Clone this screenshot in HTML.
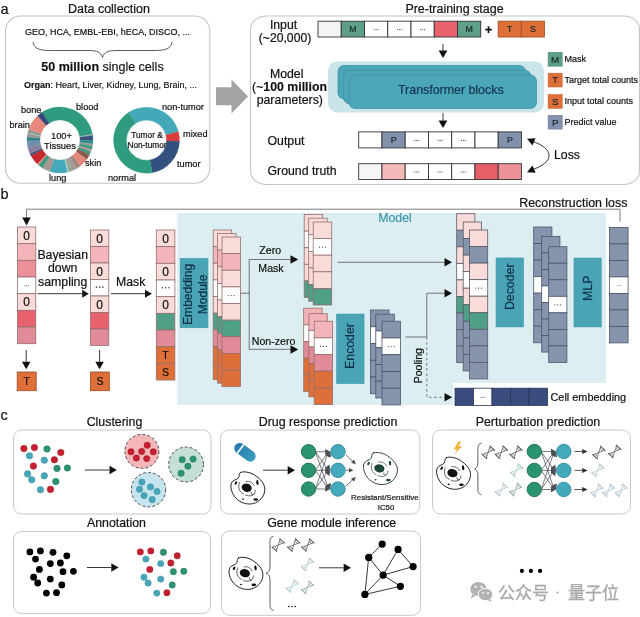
<!DOCTYPE html>
<html><head><meta charset="utf-8"><title>figure</title>
<style>html,body{margin:0;padding:0;background:#fff}svg{display:block;will-change:transform}text{font-family:"Liberation Sans",sans-serif}</style>
</head><body>
<svg width="640" height="617" viewBox="0 0 640 617">
<defs><linearGradient id="pillg" x1="0" y1="0" x2="1" y2="0"><stop offset="0" stop-color="#2679ad"/><stop offset="1" stop-color="#3b9cc0"/></linearGradient></defs>
<rect x="0" y="0" width="640" height="617" fill="#ffffff"/>
<text x="0.5" y="13.5" font-size="14.5" text-anchor="start" fill="#111" stroke="#111" stroke-width="0.2" >a</text>
<text x="109" y="12.5" font-size="12.5" text-anchor="middle" fill="#111" stroke="#111" stroke-width="0.2" >Data collection</text>
<rect x="5.5" y="16" width="204.3" height="167.3" rx="15" ry="15" fill="#fff" stroke="#c4c4c4" stroke-width="1.1"/>
<text x="107.5" y="34.5" font-size="8.97" text-anchor="middle" fill="#111" stroke="#111" stroke-width="0.2" >GEO, HCA, EMBL-EBI, hECA, DISCO, ...</text>
<path d="M33,42 C34,50 42,50.5 52,50.5 L88,50.5 C97,50.5 101,52 102.5,57.5 C104,52 108,50.5 117,50.5 L153,50.5 C163,50.5 171,50 172,42" fill="none" stroke="#333" stroke-width="0.8"/>
<text x="102.5" y="70.5" font-size="12.5" text-anchor="middle" fill="#111" stroke="#111" stroke-width="0.15"><tspan font-weight="bold">50 million</tspan> single cells</text>
<text x="110.5" y="87.5" font-size="9" text-anchor="middle" fill="#111" stroke="#111" stroke-width="0.15"><tspan font-weight="bold">Organ</tspan>: Heart, Liver, Kidney, Lung, Brain, ...</text>
<path d="M42.03,112.32 A33,33 0 0 1 92.50,134.27 L79.70,136.53 A20,20 0 0 0 49.11,123.23 Z" fill="#2f9c7f" stroke="#2f9c7f" stroke-width="0.3"/>
<path d="M92.50,134.27 A33,33 0 0 1 92.68,135.41 L79.81,137.22 A20,20 0 0 0 79.70,136.53 Z" fill="#9ab8b0" stroke="#9ab8b0" stroke-width="0.3"/>
<path d="M92.68,135.41 A33,33 0 0 1 92.99,140.58 L80.00,140.35 A20,20 0 0 0 79.81,137.22 Z" fill="#35527d" stroke="#35527d" stroke-width="0.3"/>
<path d="M92.99,140.58 A33,33 0 0 1 92.75,144.02 L79.85,142.44 A20,20 0 0 0 80.00,140.35 Z" fill="#2f8f88" stroke="#2f8f88" stroke-width="0.3"/>
<path d="M92.75,144.02 A33,33 0 0 1 92.39,146.30 L79.63,143.82 A20,20 0 0 0 79.85,142.44 Z" fill="#9a9a9a" stroke="#9a9a9a" stroke-width="0.3"/>
<path d="M92.39,146.30 A33,33 0 0 1 91.56,149.65 L79.13,145.85 A20,20 0 0 0 79.63,143.82 Z" fill="#3f9a80" stroke="#3f9a80" stroke-width="0.3"/>
<path d="M91.56,149.65 A33,33 0 0 1 90.81,151.83 L78.67,147.17 A20,20 0 0 0 79.13,145.85 Z" fill="#b59a98" stroke="#b59a98" stroke-width="0.3"/>
<path d="M90.81,151.83 A33,33 0 0 1 89.40,154.98 L77.82,149.08 A20,20 0 0 0 78.67,147.17 Z" fill="#3f9a80" stroke="#3f9a80" stroke-width="0.3"/>
<path d="M89.40,154.98 A33,33 0 0 1 86.70,159.40 L76.18,151.76 A20,20 0 0 0 77.82,149.08 Z" fill="#8a5a4c" stroke="#8a5a4c" stroke-width="0.3"/>
<path d="M86.70,159.40 A33,33 0 0 1 80.32,166.00 L72.31,155.76 A20,20 0 0 0 76.18,151.76 Z" fill="#e5887c" stroke="#e5887c" stroke-width="0.3"/>
<path d="M80.32,166.00 A33,33 0 0 1 76.50,168.58 L70.00,157.32 A20,20 0 0 0 72.31,155.76 Z" fill="#a08880" stroke="#a08880" stroke-width="0.3"/>
<path d="M76.50,168.58 A33,33 0 0 1 71.83,170.81 L67.17,158.67 A20,20 0 0 0 70.00,157.32 Z" fill="#a59a95" stroke="#a59a95" stroke-width="0.3"/>
<path d="M71.83,170.81 A33,33 0 0 1 68.54,171.88 L65.18,159.32 A20,20 0 0 0 67.17,158.67 Z" fill="#8fa596" stroke="#8fa596" stroke-width="0.3"/>
<path d="M68.54,171.88 A33,33 0 0 1 67.42,172.15 L64.50,159.49 A20,20 0 0 0 65.18,159.32 Z" fill="#c8d8d0" stroke="#c8d8d0" stroke-width="0.3"/>
<path d="M67.42,172.15 A33,33 0 0 1 49.80,171.38 L53.82,159.02 A20,20 0 0 0 64.50,159.49 Z" fill="#46a9b9" stroke="#46a9b9" stroke-width="0.3"/>
<path d="M49.80,171.38 A33,33 0 0 1 42.51,167.99 L49.40,156.96 A20,20 0 0 0 53.82,159.02 Z" fill="#a89890" stroke="#a89890" stroke-width="0.3"/>
<path d="M42.51,167.99 A33,33 0 0 1 38.35,164.91 L46.88,155.09 A20,20 0 0 0 49.40,156.96 Z" fill="#3f9a80" stroke="#3f9a80" stroke-width="0.3"/>
<path d="M38.35,164.91 A33,33 0 0 1 37.08,163.74 L46.11,154.39 A20,20 0 0 0 46.88,155.09 Z" fill="#e5887c" stroke="#e5887c" stroke-width="0.3"/>
<path d="M37.08,163.74 A33,33 0 0 1 30.86,155.49 L42.34,149.39 A20,20 0 0 0 46.11,154.39 Z" fill="#c5282f" stroke="#c5282f" stroke-width="0.3"/>
<path d="M30.86,155.49 A33,33 0 0 1 29.85,153.42 L41.73,148.13 A20,20 0 0 0 42.34,149.39 Z" fill="#35527d" stroke="#35527d" stroke-width="0.3"/>
<path d="M29.85,153.42 A33,33 0 0 1 27.85,147.42 L40.51,144.50 A20,20 0 0 0 41.73,148.13 Z" fill="#8a7f9c" stroke="#8a7f9c" stroke-width="0.3"/>
<path d="M27.85,147.42 A33,33 0 0 1 27.01,140.58 L40.00,140.35 A20,20 0 0 0 40.51,144.50 Z" fill="#6f8fae" stroke="#6f8fae" stroke-width="0.3"/>
<path d="M27.01,140.58 A33,33 0 0 1 27.13,137.12 L40.08,138.26 A20,20 0 0 0 40.00,140.35 Z" fill="#2f7f88" stroke="#2f7f88" stroke-width="0.3"/>
<path d="M27.13,137.12 A33,33 0 0 1 27.61,133.70 L40.37,136.18 A20,20 0 0 0 40.08,138.26 Z" fill="#8f9a98" stroke="#8f9a98" stroke-width="0.3"/>
<path d="M27.61,133.70 A33,33 0 0 1 27.85,132.58 L40.51,135.50 A20,20 0 0 0 40.37,136.18 Z" fill="#b5b0a0" stroke="#b5b0a0" stroke-width="0.3"/>
<path d="M27.85,132.58 A33,33 0 0 1 28.80,129.26 L41.09,133.49 A20,20 0 0 0 40.51,135.50 Z" fill="#8f9a98" stroke="#8f9a98" stroke-width="0.3"/>
<path d="M28.80,129.26 A33,33 0 0 1 37.49,115.87 L46.36,125.37 A20,20 0 0 0 41.09,133.49 Z" fill="#e8887c" stroke="#e8887c" stroke-width="0.3"/>
<path d="M37.49,115.87 A33,33 0 0 1 42.03,112.32 L49.11,123.23 A20,20 0 0 0 46.36,125.37 Z" fill="#34487e" stroke="#34487e" stroke-width="0.3"/>
<text x="61.5" y="138.5" font-size="9.4" text-anchor="middle" fill="#111" stroke="#111" stroke-width="0.2" >100+</text>
<text x="60" y="149" font-size="9.4" text-anchor="middle" fill="#111" stroke="#111" stroke-width="0.2" >Tissues</text>
<text x="21" y="113" font-size="9.2" text-anchor="start" fill="#111" stroke="#111" stroke-width="0.2" >bone</text>
<text x="76" y="110" font-size="9.2" text-anchor="start" fill="#111" stroke="#111" stroke-width="0.2" >blood</text>
<text x="9.5" y="127.5" font-size="9.2" text-anchor="start" fill="#111" stroke="#111" stroke-width="0.2" >brain</text>
<text x="85" y="166" font-size="9.2" text-anchor="start" fill="#111" stroke="#111" stroke-width="0.2" >skin</text>
<text x="49" y="180.5" font-size="9.2" text-anchor="start" fill="#111" stroke="#111" stroke-width="0.2" >lung</text>
<path d="M128.53,112.52 A33,33 0 0 1 178.38,131.66 L165.82,135.02 A20,20 0 0 0 135.61,123.43 Z" fill="#43a9b9" stroke="#43a9b9" stroke-width="0.3"/>
<path d="M178.38,131.66 A33,33 0 0 1 179.48,141.35 L166.49,140.90 A20,20 0 0 0 165.82,135.02 Z" fill="#dc3b3b" stroke="#dc3b3b" stroke-width="0.3"/>
<path d="M179.48,141.35 A33,33 0 0 1 152.23,172.70 L149.97,159.90 A20,20 0 0 0 166.49,140.90 Z" fill="#34507f" stroke="#34507f" stroke-width="0.3"/>
<path d="M152.23,172.70 A33,33 0 0 1 128.53,112.52 L135.61,123.43 A20,20 0 0 0 149.97,159.90 Z" fill="#2f9c7f" stroke="#2f9c7f" stroke-width="0.3"/>
<text x="147" y="138" font-size="8.3" text-anchor="middle" fill="#111" stroke="#111" stroke-width="0.2" >Tumor &amp;</text>
<text x="147" y="148" font-size="8.3" text-anchor="middle" fill="#111" stroke="#111" stroke-width="0.2" >Non-tumor</text>
<text x="162" y="110" font-size="9.2" text-anchor="start" fill="#111" stroke="#111" stroke-width="0.2" >non-tumor</text>
<text x="183" y="137" font-size="9.2" text-anchor="start" fill="#111" stroke="#111" stroke-width="0.2" >mixed</text>
<text x="177" y="166.5" font-size="9.2" text-anchor="start" fill="#111" stroke="#111" stroke-width="0.2" >tumor</text>
<text x="108" y="180.5" font-size="9.2" text-anchor="start" fill="#111" stroke="#111" stroke-width="0.2" >normal</text>
<polygon points="216,87.2 231.5,87.2 231.5,79.5 248,96.5 231.5,113.5 231.5,105.2 216,105.2" fill="#a3a3a5"/>
<text x="454.5" y="13.2" font-size="12.44" text-anchor="middle" fill="#111" stroke="#111" stroke-width="0.2" >Pre-training stage</text>
<rect x="250.5" y="16" width="389" height="168.5" rx="16" ry="13" fill="#fff" stroke="#c4c4c4" stroke-width="1.1"/>
<text x="283.5" y="28.5" font-size="12.2" text-anchor="middle" fill="#111" stroke="#111" stroke-width="0.2" >Input</text>
<text x="285" y="42" font-size="12.2" text-anchor="middle" fill="#111" stroke="#111" stroke-width="0.2" >(~20,000)</text>
<text x="286.7" y="77.5" font-size="12.3" text-anchor="middle" fill="#111" stroke="#111" stroke-width="0.2" >Model</text>
<text x="289.5" y="90.8" font-size="12.3" text-anchor="middle" fill="#111" stroke="#111" stroke-width="0.15">(~<tspan font-weight="bold">100 million</tspan></text>
<text x="289.8" y="104.3" font-size="12.3" text-anchor="middle" fill="#111" stroke="#111" stroke-width="0.2" >parameters)</text>
<text x="267.5" y="145" font-size="12.3" text-anchor="start" fill="#111" stroke="#111" stroke-width="0.2" >Output</text>
<text x="267.5" y="175" font-size="12.3" text-anchor="start" fill="#111" stroke="#111" stroke-width="0.2" >Ground truth</text>
<rect x="318.00" y="21.2" width="23.25" height="15.8" fill="#f4f4f4" stroke="#333" stroke-width="0.9"/>
<rect x="341.25" y="21.2" width="23.25" height="15.8" fill="#5ea087" stroke="#333" stroke-width="0.9"/>
<text x="352.88" y="32.27" font-size="8.8" text-anchor="middle" fill="#1a2a2a" stroke="#1a2a2a" stroke-width="0.2" >M</text>
<rect x="364.50" y="21.2" width="23.25" height="15.8" fill="#ffffff" stroke="#333" stroke-width="0.9"/>
<circle cx="374.23" cy="29.60" r="0.55" fill="#444"/>
<circle cx="376.12" cy="29.60" r="0.55" fill="#444"/>
<circle cx="378.02" cy="29.60" r="0.55" fill="#444"/>
<rect x="387.75" y="21.2" width="23.25" height="15.8" fill="#ffffff" stroke="#333" stroke-width="0.9"/>
<circle cx="397.48" cy="29.60" r="0.55" fill="#444"/>
<circle cx="399.38" cy="29.60" r="0.55" fill="#444"/>
<circle cx="401.27" cy="29.60" r="0.55" fill="#444"/>
<rect x="411.00" y="21.2" width="23.25" height="15.8" fill="#ffffff" stroke="#333" stroke-width="0.9"/>
<circle cx="420.73" cy="29.60" r="0.55" fill="#444"/>
<circle cx="422.62" cy="29.60" r="0.55" fill="#444"/>
<circle cx="424.52" cy="29.60" r="0.55" fill="#444"/>
<rect x="434.25" y="21.2" width="23.25" height="15.8" fill="#e9626d" stroke="#333" stroke-width="0.9"/>
<rect x="457.50" y="21.2" width="23.25" height="15.8" fill="#5ea087" stroke="#333" stroke-width="0.9"/>
<text x="469.12" y="32.27" font-size="8.8" text-anchor="middle" fill="#1a2a2a" stroke="#1a2a2a" stroke-width="0.2" >M</text>
<text x="488.5" y="33.5" font-size="13" text-anchor="middle" fill="#111" stroke="#111" stroke-width="0.2" font-weight="bold">+</text>
<rect x="498.20" y="21.2" width="23.1" height="15.8" fill="#df6f39" stroke="#a54e25" stroke-width="0.9"/>
<text x="509.75" y="32.27" font-size="8.8" text-anchor="middle" fill="#1a2a2a" stroke="#1a2a2a" stroke-width="0.2" >T</text>
<rect x="521.30" y="21.2" width="23.1" height="15.8" fill="#df6f39" stroke="#a54e25" stroke-width="0.9"/>
<text x="532.85" y="32.27" font-size="8.8" text-anchor="middle" fill="#1a2a2a" stroke="#1a2a2a" stroke-width="0.2" >S</text>
<line x1="443" y1="44" x2="443.00" y2="50.50" stroke="#222" stroke-width="0.9"/>
<polygon points="443.00,58.00 438.60,50.50 447.40,50.50" fill="#111"/>
<rect x="328" y="61.5" width="216" height="51" rx="9" fill="#c9e5ea"/>
<rect x="338" y="65.5" width="187.5" height="33.5" rx="6" fill="#4ba6b7" stroke="#3d94a6" stroke-width="0.8"/>
<rect x="343.5" y="70.2" width="187.5" height="33.5" rx="6" fill="#4ba6b7" stroke="#3d94a6" stroke-width="0.8"/>
<rect x="349" y="75.0" width="187.5" height="33.5" rx="6" fill="#4ba6b7" stroke="#3d94a6" stroke-width="0.8"/>
<text x="450.8" y="94" font-size="12.4" text-anchor="middle" fill="#15344f" stroke="#15344f" stroke-width="0.2" >Transformer blocks</text>
<line x1="443" y1="113" x2="443.00" y2="120.50" stroke="#222" stroke-width="0.9"/>
<polygon points="443.00,128.00 438.60,120.50 447.40,120.50" fill="#111"/>
<rect x="358.70" y="131.9" width="23.25" height="16" fill="#ffffff" stroke="#333" stroke-width="0.9"/>
<rect x="381.95" y="131.9" width="23.25" height="16" fill="#8391ad" stroke="#333" stroke-width="0.9"/>
<text x="393.57" y="143.07" font-size="8.8" text-anchor="middle" fill="#1a2a2a" stroke="#1a2a2a" stroke-width="0.2" >P</text>
<rect x="405.20" y="131.9" width="23.25" height="16" fill="#ffffff" stroke="#333" stroke-width="0.9"/>
<circle cx="414.93" cy="140.40" r="0.55" fill="#444"/>
<circle cx="416.82" cy="140.40" r="0.55" fill="#444"/>
<circle cx="418.72" cy="140.40" r="0.55" fill="#444"/>
<rect x="428.45" y="131.9" width="23.25" height="16" fill="#ffffff" stroke="#333" stroke-width="0.9"/>
<circle cx="438.18" cy="140.40" r="0.55" fill="#444"/>
<circle cx="440.07" cy="140.40" r="0.55" fill="#444"/>
<circle cx="441.97" cy="140.40" r="0.55" fill="#444"/>
<rect x="451.70" y="131.9" width="23.25" height="16" fill="#ffffff" stroke="#333" stroke-width="0.9"/>
<circle cx="461.43" cy="140.40" r="0.55" fill="#444"/>
<circle cx="463.32" cy="140.40" r="0.55" fill="#444"/>
<circle cx="465.22" cy="140.40" r="0.55" fill="#444"/>
<rect x="474.95" y="131.9" width="23.25" height="16" fill="#ffffff" stroke="#333" stroke-width="0.9"/>
<rect x="498.20" y="131.9" width="23.25" height="16" fill="#8391ad" stroke="#333" stroke-width="0.9"/>
<text x="509.82" y="143.07" font-size="8.8" text-anchor="middle" fill="#1a2a2a" stroke="#1a2a2a" stroke-width="0.2" >P</text>
<rect x="358.70" y="163.7" width="23.25" height="15.8" fill="#f8f5f5" stroke="#333" stroke-width="0.9"/>
<rect x="381.95" y="163.7" width="23.25" height="15.8" fill="#f4b9b9" stroke="#333" stroke-width="0.9"/>
<rect x="405.20" y="163.7" width="23.25" height="15.8" fill="#ffffff" stroke="#333" stroke-width="0.9"/>
<circle cx="414.93" cy="172.10" r="0.55" fill="#444"/>
<circle cx="416.82" cy="172.10" r="0.55" fill="#444"/>
<circle cx="418.72" cy="172.10" r="0.55" fill="#444"/>
<rect x="428.45" y="163.7" width="23.25" height="15.8" fill="#ffffff" stroke="#333" stroke-width="0.9"/>
<circle cx="438.18" cy="172.10" r="0.55" fill="#444"/>
<circle cx="440.07" cy="172.10" r="0.55" fill="#444"/>
<circle cx="441.97" cy="172.10" r="0.55" fill="#444"/>
<rect x="451.70" y="163.7" width="23.25" height="15.8" fill="#ffffff" stroke="#333" stroke-width="0.9"/>
<circle cx="461.43" cy="172.10" r="0.55" fill="#444"/>
<circle cx="463.32" cy="172.10" r="0.55" fill="#444"/>
<circle cx="465.22" cy="172.10" r="0.55" fill="#444"/>
<rect x="474.95" y="163.7" width="23.25" height="15.8" fill="#e55f66" stroke="#333" stroke-width="0.9"/>
<rect x="498.20" y="163.7" width="23.25" height="15.8" fill="#ee9198" stroke="#333" stroke-width="0.9"/>
<rect x="548.1" y="52.4" width="14.1" height="13.8" fill="#5ea087" stroke="#4a8a72" stroke-width="0.6"/>
<text x="555.2" y="62.599999999999994" font-size="9.8" text-anchor="middle" fill="#1a2a2a" stroke="#1a2a2a" stroke-width="0.2" >M</text>
<text x="564.5" y="62.2" font-size="9.0" text-anchor="start" fill="#111" stroke="#111" stroke-width="0.2" >Mask</text>
<rect x="548.1" y="73.2" width="14.1" height="13.8" fill="#df6f39" stroke="#c8683a" stroke-width="0.6"/>
<text x="555.2" y="83.4" font-size="9.8" text-anchor="middle" fill="#1a2a2a" stroke="#1a2a2a" stroke-width="0.2" >T</text>
<text x="564.5" y="83.0" font-size="9.0" text-anchor="start" fill="#111" stroke="#111" stroke-width="0.2" >Target total counts</text>
<rect x="548.1" y="94.5" width="14.1" height="13.8" fill="#df6f39" stroke="#c8683a" stroke-width="0.6"/>
<text x="555.2" y="104.7" font-size="9.8" text-anchor="middle" fill="#1a2a2a" stroke="#1a2a2a" stroke-width="0.2" >S</text>
<text x="564.5" y="104.3" font-size="9.0" text-anchor="start" fill="#111" stroke="#111" stroke-width="0.2" >Input total counts</text>
<rect x="548.1" y="115.3" width="14.1" height="13.8" fill="#8391ad" stroke="#6f7d99" stroke-width="0.6"/>
<text x="555.2" y="125.5" font-size="9.8" text-anchor="middle" fill="#1a2a2a" stroke="#1a2a2a" stroke-width="0.2" >P</text>
<text x="564.5" y="125.1" font-size="9.0" text-anchor="start" fill="#111" stroke="#111" stroke-width="0.2" >Predict value</text>
<path d="M531,141 C555,148 555,163 531,170" fill="none" stroke="#222" stroke-width="0.9"/>
<polygon points="527,138.8 535.5,138.3 532.5,145.5" fill="#111"/>
<polygon points="527,172.3 535.5,172.8 532.5,165.5" fill="#111"/>
<text x="554" y="159" font-size="12.3" text-anchor="start" fill="#111" stroke="#111" stroke-width="0.2" >Loss</text>
<text x="0.5" y="199" font-size="14.5" text-anchor="start" fill="#111" stroke="#111" stroke-width="0.2" >b</text>
<polygon points="177.3,213 606,213 606,383 453,383 453,405 177.3,405" fill="#dceef1"/>
<polyline points="620,221.8 620,209.2 26.5,209.2 26.5,218" fill="none" stroke="#707070" stroke-width="0.9"/>
<polygon points="26.5,225.5 22.2,217.5 30.8,217.5" fill="#111"/>
<text x="627.4" y="206.8" font-size="12.4" text-anchor="end" fill="#111" stroke="#111" stroke-width="0.2" >Reconstruction loss</text>
<rect x="17.5" y="227.00" width="18.3" height="16.67" fill="#f9dbd9" stroke="#94706f" stroke-width="0.8"/>
<text x="26.65" y="239.66" font-size="12" text-anchor="middle" fill="#111" stroke="#111" stroke-width="0.2" >0</text>
<rect x="17.5" y="243.67" width="18.3" height="16.67" fill="#f3b5b9" stroke="#94706f" stroke-width="0.8"/>
<rect x="17.5" y="260.34" width="18.3" height="16.67" fill="#ec8f98" stroke="#94706f" stroke-width="0.8"/>
<rect x="17.5" y="277.01" width="18.3" height="16.67" fill="#ffffff" stroke="#94706f" stroke-width="0.8"/>
<circle cx="24.85" cy="285.84" r="0.5" fill="#444"/>
<circle cx="26.65" cy="285.84" r="0.5" fill="#444"/>
<circle cx="28.45" cy="285.84" r="0.5" fill="#444"/>
<rect x="17.5" y="293.68" width="18.3" height="16.67" fill="#f9dbd9" stroke="#94706f" stroke-width="0.8"/>
<text x="26.65" y="306.33" font-size="12" text-anchor="middle" fill="#111" stroke="#111" stroke-width="0.2" >0</text>
<rect x="17.5" y="310.35" width="18.3" height="16.67" fill="#e8626d" stroke="#94706f" stroke-width="0.8"/>
<rect x="17.5" y="327.02" width="18.3" height="16.67" fill="#e08b97" stroke="#94706f" stroke-width="0.8"/>
<rect x="90.5" y="230.00" width="18.3" height="16.5" fill="#f9dbd9" stroke="#94706f" stroke-width="0.8"/>
<text x="99.65" y="242.57" font-size="12" text-anchor="middle" fill="#111" stroke="#111" stroke-width="0.2" >0</text>
<rect x="90.5" y="246.50" width="18.3" height="16.5" fill="#f3b5b9" stroke="#94706f" stroke-width="0.8"/>
<rect x="90.5" y="263.00" width="18.3" height="16.5" fill="#f9dbd9" stroke="#94706f" stroke-width="0.8"/>
<text x="99.65" y="275.57" font-size="12" text-anchor="middle" fill="#111" stroke="#111" stroke-width="0.2" >0</text>
<rect x="90.5" y="279.50" width="18.3" height="16.5" fill="#ffffff" stroke="#94706f" stroke-width="0.8"/>
<circle cx="96.45" cy="287.15" r="0.8" fill="#444"/>
<circle cx="99.65" cy="287.15" r="0.8" fill="#444"/>
<circle cx="102.85" cy="287.15" r="0.8" fill="#444"/>
<rect x="90.5" y="296.00" width="18.3" height="16.5" fill="#f9dbd9" stroke="#94706f" stroke-width="0.8"/>
<text x="99.65" y="308.57" font-size="12" text-anchor="middle" fill="#111" stroke="#111" stroke-width="0.2" >0</text>
<rect x="90.5" y="312.50" width="18.3" height="16.5" fill="#e8626d" stroke="#94706f" stroke-width="0.8"/>
<rect x="90.5" y="329.00" width="18.3" height="16.5" fill="#e08b97" stroke="#94706f" stroke-width="0.8"/>
<rect x="156.3" y="230.00" width="18.6" height="16.67" fill="#f9dbd9" stroke="#94706f" stroke-width="0.8"/>
<text x="165.60" y="242.66" font-size="12" text-anchor="middle" fill="#111" stroke="#111" stroke-width="0.2" >0</text>
<rect x="156.3" y="246.67" width="18.6" height="16.67" fill="#f3b5b9" stroke="#94706f" stroke-width="0.8"/>
<rect x="156.3" y="263.34" width="18.6" height="16.67" fill="#f9dbd9" stroke="#94706f" stroke-width="0.8"/>
<text x="165.60" y="276.00" font-size="12" text-anchor="middle" fill="#111" stroke="#111" stroke-width="0.2" >0</text>
<rect x="156.3" y="280.01" width="18.6" height="16.67" fill="#ffffff" stroke="#94706f" stroke-width="0.8"/>
<circle cx="162.40" cy="287.74" r="0.8" fill="#444"/>
<circle cx="165.60" cy="287.74" r="0.8" fill="#444"/>
<circle cx="168.80" cy="287.74" r="0.8" fill="#444"/>
<rect x="156.3" y="296.68" width="18.6" height="16.67" fill="#f9dbd9" stroke="#94706f" stroke-width="0.8"/>
<text x="165.60" y="309.33" font-size="12" text-anchor="middle" fill="#111" stroke="#111" stroke-width="0.2" >0</text>
<rect x="156.3" y="313.35" width="18.6" height="16.67" fill="#4f9f86" stroke="#94706f" stroke-width="0.8"/>
<rect x="156.3" y="330.02" width="18.6" height="16.67" fill="#e08b97" stroke="#94706f" stroke-width="0.8"/>
<rect x="156.3" y="346.69" width="18.6" height="16.67" fill="#df6f39" stroke="#94706f" stroke-width="0.8"/>
<text x="165.60" y="358.84" font-size="10.6" text-anchor="middle" fill="#111" stroke="#111" stroke-width="0.2" >T</text>
<rect x="156.3" y="363.36" width="18.6" height="16.67" fill="#df6f39" stroke="#94706f" stroke-width="0.8"/>
<text x="165.60" y="375.51" font-size="10.6" text-anchor="middle" fill="#111" stroke="#111" stroke-width="0.2" >S</text>
<text x="62.7" y="259" font-size="12.3" text-anchor="middle" fill="#111" stroke="#111" stroke-width="0.2" >Bayesian</text>
<text x="62.7" y="272.3" font-size="12.3" text-anchor="middle" fill="#111" stroke="#111" stroke-width="0.2" >down</text>
<text x="62.7" y="285.5" font-size="12.3" text-anchor="middle" fill="#111" stroke="#111" stroke-width="0.2" >sampling</text>
<line x1="37.5" y1="293.7" x2="82.20" y2="293.70" stroke="#222" stroke-width="0.9"/>
<polygon points="88.70,293.70 82.20,297.70 82.20,289.70" fill="#111"/>
<text x="130.7" y="286.3" font-size="12.3" text-anchor="middle" fill="#111" stroke="#111" stroke-width="0.2" >Mask</text>
<line x1="111" y1="293.7" x2="145.00" y2="293.70" stroke="#222" stroke-width="0.9"/>
<polygon points="152.00,293.70 145.00,297.70 145.00,289.70" fill="#111"/>
<line x1="26.2" y1="350" x2="26.20" y2="361.70" stroke="#222" stroke-width="0.9"/>
<polygon points="26.20,369.20 21.95,361.70 30.45,361.70" fill="#111"/>
<line x1="99.6" y1="350" x2="99.60" y2="361.70" stroke="#222" stroke-width="0.9"/>
<polygon points="99.60,369.20 95.35,361.70 103.85,361.70" fill="#111"/>
<rect x="17.2" y="372" width="19" height="18.7" fill="#df6f39" stroke="#9a4a22" stroke-width="0.8"/>
<text x="26.7" y="385" font-size="10.5" text-anchor="middle" fill="#111" stroke="#111" stroke-width="0.2" >T</text>
<rect x="90.5" y="372" width="18.8" height="18.7" fill="#df6f39" stroke="#9a4a22" stroke-width="0.8"/>
<text x="99.9" y="385" font-size="10.5" text-anchor="middle" fill="#111" stroke="#111" stroke-width="0.2" >S</text>
<rect x="180.2" y="258.6" width="27.7" height="69.1" fill="#49a5b6" stroke="#3f97a8" stroke-width="0.7"/>
<text transform="translate(192,294.4) rotate(-90)" font-size="12.1" text-anchor="middle" fill="#0f2f48" stroke="#0f2f48" stroke-width="0.2">Embedding</text>
<text transform="translate(207,294.4) rotate(-90)" font-size="12.1" text-anchor="middle" fill="#0f2f48" stroke="#0f2f48" stroke-width="0.2">Module</text>
<rect x="213.2" y="230.00" width="18.5" height="16.63" fill="#f9dbd9" stroke="#94706f" stroke-width="0.8"/>
<rect x="213.2" y="246.63" width="18.5" height="16.63" fill="#f3b5b9" stroke="#94706f" stroke-width="0.8"/>
<rect x="213.2" y="263.26" width="18.5" height="16.63" fill="#f9dbd9" stroke="#94706f" stroke-width="0.8"/>
<rect x="213.2" y="279.89" width="18.5" height="16.63" fill="#ffffff" stroke="#94706f" stroke-width="0.8"/>
<rect x="213.2" y="296.52" width="18.5" height="16.63" fill="#f9dbd9" stroke="#94706f" stroke-width="0.8"/>
<rect x="213.2" y="313.15" width="18.5" height="16.63" fill="#4f9f86" stroke="#94706f" stroke-width="0.8"/>
<rect x="213.2" y="329.78" width="18.5" height="16.63" fill="#e08b97" stroke="#94706f" stroke-width="0.8"/>
<rect x="213.2" y="346.41" width="18.5" height="16.63" fill="#df6f39" stroke="#94706f" stroke-width="0.8"/>
<rect x="213.2" y="363.04" width="18.5" height="16.63" fill="#df6f39" stroke="#94706f" stroke-width="0.8"/>
<rect x="217.6" y="233.50" width="18.5" height="16.63" fill="#f9dbd9" stroke="#94706f" stroke-width="0.8"/>
<rect x="217.6" y="250.13" width="18.5" height="16.63" fill="#f3b5b9" stroke="#94706f" stroke-width="0.8"/>
<rect x="217.6" y="266.76" width="18.5" height="16.63" fill="#f9dbd9" stroke="#94706f" stroke-width="0.8"/>
<rect x="217.6" y="283.39" width="18.5" height="16.63" fill="#ffffff" stroke="#94706f" stroke-width="0.8"/>
<rect x="217.6" y="300.02" width="18.5" height="16.63" fill="#f9dbd9" stroke="#94706f" stroke-width="0.8"/>
<rect x="217.6" y="316.65" width="18.5" height="16.63" fill="#4f9f86" stroke="#94706f" stroke-width="0.8"/>
<rect x="217.6" y="333.28" width="18.5" height="16.63" fill="#e08b97" stroke="#94706f" stroke-width="0.8"/>
<rect x="217.6" y="349.91" width="18.5" height="16.63" fill="#df6f39" stroke="#94706f" stroke-width="0.8"/>
<rect x="217.6" y="366.54" width="18.5" height="16.63" fill="#df6f39" stroke="#94706f" stroke-width="0.8"/>
<rect x="222" y="237.00" width="18.5" height="16.63" fill="#f9dbd9" stroke="#94706f" stroke-width="0.8"/>
<rect x="222" y="253.63" width="18.5" height="16.63" fill="#f3b5b9" stroke="#94706f" stroke-width="0.8"/>
<rect x="222" y="270.26" width="18.5" height="16.63" fill="#f9dbd9" stroke="#94706f" stroke-width="0.8"/>
<rect x="222" y="286.89" width="18.5" height="16.63" fill="#ffffff" stroke="#94706f" stroke-width="0.8"/>
<circle cx="228.35" cy="295.50" r="0.6" fill="#444"/>
<circle cx="231.25" cy="295.50" r="0.6" fill="#444"/>
<circle cx="234.15" cy="295.50" r="0.6" fill="#444"/>
<rect x="222" y="303.52" width="18.5" height="16.63" fill="#f9dbd9" stroke="#94706f" stroke-width="0.8"/>
<rect x="222" y="320.15" width="18.5" height="16.63" fill="#4f9f86" stroke="#94706f" stroke-width="0.8"/>
<rect x="222" y="336.78" width="18.5" height="16.63" fill="#e08b97" stroke="#94706f" stroke-width="0.8"/>
<rect x="222" y="353.41" width="18.5" height="16.63" fill="#df6f39" stroke="#94706f" stroke-width="0.8"/>
<rect x="222" y="370.04" width="18.5" height="16.63" fill="#df6f39" stroke="#94706f" stroke-width="0.8"/>
<polyline points="240.5,293.2 249.2,293.2" fill="none" stroke="#5f5f5f" stroke-width="0.85"/>
<polyline points="291,259.5 249.2,259.5 249.2,349.3 291,349.3" fill="none" stroke="#5f5f5f" stroke-width="0.85"/>
<polygon points="298.2,259.5 290.5,255.3 290.5,263.7" fill="#111"/>
<polygon points="298.2,349.5 290.5,345.3 290.5,353.7" fill="#111"/>
<text x="270.2" y="254" font-size="10.6" text-anchor="middle" fill="#111" stroke="#111" stroke-width="0.2" >Zero</text>
<text x="271" y="272" font-size="10.6" text-anchor="middle" fill="#111" stroke="#111" stroke-width="0.2" >Mask</text>
<text x="273.6" y="344.7" font-size="10.6" text-anchor="middle" fill="#111" stroke="#111" stroke-width="0.2" >Non-zero</text>
<rect x="304.2" y="214.50" width="18.5" height="16.6" fill="#f9dbd9" stroke="#94706f" stroke-width="0.8"/>
<rect x="304.2" y="231.10" width="18.5" height="16.6" fill="#ffffff" stroke="#94706f" stroke-width="0.8"/>
<rect x="304.2" y="247.70" width="18.5" height="16.6" fill="#f9dbd9" stroke="#94706f" stroke-width="0.8"/>
<rect x="304.2" y="264.30" width="18.5" height="16.6" fill="#f9dbd9" stroke="#94706f" stroke-width="0.8"/>
<rect x="304.2" y="280.90" width="18.5" height="16.6" fill="#4f9f86" stroke="#94706f" stroke-width="0.8"/>
<rect x="308.7" y="218.20" width="18.5" height="16.6" fill="#f9dbd9" stroke="#94706f" stroke-width="0.8"/>
<rect x="308.7" y="234.80" width="18.5" height="16.6" fill="#ffffff" stroke="#94706f" stroke-width="0.8"/>
<rect x="308.7" y="251.40" width="18.5" height="16.6" fill="#f9dbd9" stroke="#94706f" stroke-width="0.8"/>
<rect x="308.7" y="268.00" width="18.5" height="16.6" fill="#f9dbd9" stroke="#94706f" stroke-width="0.8"/>
<rect x="308.7" y="284.60" width="18.5" height="16.6" fill="#4f9f86" stroke="#94706f" stroke-width="0.8"/>
<rect x="313.2" y="222.00" width="18.5" height="16.6" fill="#f9dbd9" stroke="#94706f" stroke-width="0.8"/>
<rect x="313.2" y="238.60" width="18.5" height="16.6" fill="#ffffff" stroke="#94706f" stroke-width="0.8"/>
<circle cx="319.55" cy="247.20" r="0.6" fill="#444"/>
<circle cx="322.45" cy="247.20" r="0.6" fill="#444"/>
<circle cx="325.35" cy="247.20" r="0.6" fill="#444"/>
<rect x="313.2" y="255.20" width="18.5" height="16.6" fill="#f9dbd9" stroke="#94706f" stroke-width="0.8"/>
<rect x="313.2" y="271.80" width="18.5" height="16.6" fill="#f9dbd9" stroke="#94706f" stroke-width="0.8"/>
<rect x="313.2" y="288.40" width="18.5" height="16.6" fill="#4f9f86" stroke="#94706f" stroke-width="0.8"/>
<rect x="303.7" y="308.20" width="18.4" height="16.65" fill="#f3b5b9" stroke="#94706f" stroke-width="0.8"/>
<rect x="303.7" y="324.85" width="18.4" height="16.65" fill="#ffffff" stroke="#94706f" stroke-width="0.8"/>
<rect x="303.7" y="341.50" width="18.4" height="16.65" fill="#e08b97" stroke="#94706f" stroke-width="0.8"/>
<rect x="303.7" y="358.15" width="18.4" height="16.65" fill="#df6f39" stroke="#94706f" stroke-width="0.8"/>
<rect x="303.7" y="374.80" width="18.4" height="16.65" fill="#df6f39" stroke="#94706f" stroke-width="0.8"/>
<rect x="308.9" y="313.70" width="18.4" height="16.65" fill="#f3b5b9" stroke="#94706f" stroke-width="0.8"/>
<rect x="308.9" y="330.35" width="18.4" height="16.65" fill="#ffffff" stroke="#94706f" stroke-width="0.8"/>
<rect x="308.9" y="347.00" width="18.4" height="16.65" fill="#e08b97" stroke="#94706f" stroke-width="0.8"/>
<rect x="308.9" y="363.65" width="18.4" height="16.65" fill="#df6f39" stroke="#94706f" stroke-width="0.8"/>
<rect x="308.9" y="380.30" width="18.4" height="16.65" fill="#df6f39" stroke="#94706f" stroke-width="0.8"/>
<rect x="314.2" y="321.20" width="18.4" height="16.65" fill="#f3b5b9" stroke="#94706f" stroke-width="0.8"/>
<rect x="314.2" y="337.85" width="18.4" height="16.65" fill="#ffffff" stroke="#94706f" stroke-width="0.8"/>
<circle cx="320.50" cy="346.47" r="0.6" fill="#444"/>
<circle cx="323.40" cy="346.47" r="0.6" fill="#444"/>
<circle cx="326.30" cy="346.47" r="0.6" fill="#444"/>
<rect x="314.2" y="354.50" width="18.4" height="16.65" fill="#e08b97" stroke="#94706f" stroke-width="0.8"/>
<rect x="314.2" y="371.15" width="18.4" height="16.65" fill="#df6f39" stroke="#94706f" stroke-width="0.8"/>
<rect x="314.2" y="387.80" width="18.4" height="16.65" fill="#df6f39" stroke="#94706f" stroke-width="0.8"/>
<text x="395" y="222.3" font-size="12.3" text-anchor="middle" fill="#3f97ad" stroke="#3f97ad" stroke-width="0.2" >Model</text>
<rect x="336.7" y="314.1" width="27.3" height="69.3" fill="#49a5b6" stroke="#3f97a8" stroke-width="0.7"/>
<text transform="translate(354.3,346) rotate(-90)" font-size="12.3" text-anchor="middle" fill="#0f2f48" stroke="#0f2f48" stroke-width="0.2">Encoder</text>
<rect x="370.5" y="310.00" width="18.5" height="16.75" fill="#8694ae" stroke="#4d5669" stroke-width="0.8"/>
<rect x="370.5" y="326.75" width="18.5" height="16.75" fill="#ffffff" stroke="#4d5669" stroke-width="0.8"/>
<rect x="370.5" y="343.50" width="18.5" height="16.75" fill="#8694ae" stroke="#4d5669" stroke-width="0.8"/>
<rect x="370.5" y="360.25" width="18.5" height="16.75" fill="#8694ae" stroke="#4d5669" stroke-width="0.8"/>
<rect x="370.5" y="377.00" width="18.5" height="16.75" fill="#8694ae" stroke="#4d5669" stroke-width="0.8"/>
<rect x="375.8" y="314.20" width="18.5" height="16.75" fill="#8694ae" stroke="#4d5669" stroke-width="0.8"/>
<rect x="375.8" y="330.95" width="18.5" height="16.75" fill="#ffffff" stroke="#4d5669" stroke-width="0.8"/>
<rect x="375.8" y="347.70" width="18.5" height="16.75" fill="#8694ae" stroke="#4d5669" stroke-width="0.8"/>
<rect x="375.8" y="364.45" width="18.5" height="16.75" fill="#8694ae" stroke="#4d5669" stroke-width="0.8"/>
<rect x="375.8" y="381.20" width="18.5" height="16.75" fill="#8694ae" stroke="#4d5669" stroke-width="0.8"/>
<rect x="382" y="321.20" width="18.5" height="16.75" fill="#8694ae" stroke="#4d5669" stroke-width="0.8"/>
<rect x="382" y="337.95" width="18.5" height="16.75" fill="#ffffff" stroke="#4d5669" stroke-width="0.8"/>
<circle cx="388.35" cy="346.62" r="0.6" fill="#444"/>
<circle cx="391.25" cy="346.62" r="0.6" fill="#444"/>
<circle cx="394.15" cy="346.62" r="0.6" fill="#444"/>
<rect x="382" y="354.70" width="18.5" height="16.75" fill="#8694ae" stroke="#4d5669" stroke-width="0.8"/>
<rect x="382" y="371.45" width="18.5" height="16.75" fill="#8694ae" stroke="#4d5669" stroke-width="0.8"/>
<rect x="382" y="388.20" width="18.5" height="16.75" fill="#8694ae" stroke="#4d5669" stroke-width="0.8"/>
<line x1="337.5" y1="262.3" x2="445" y2="262.3" stroke="#5f5f5f" stroke-width="0.85"/>
<polygon points="452,262.3 444.5,258.1 444.5,266.5" fill="#111"/>
<polyline points="405.5,337 426.8,337 426.8,293.2 445,293.2" fill="none" stroke="#5f5f5f" stroke-width="0.85"/>
<polygon points="452,293.2 444.5,289 444.5,297.4" fill="#111"/>
<polyline points="426.8,337 426.8,397.3 445,397.3" fill="none" stroke="#5f5f5f" stroke-width="0.85" stroke-dasharray="2.6,2.6"/>
<polygon points="452.2,397.3 444.5,393.1 444.5,401.5" fill="#111"/>
<text transform="translate(422.2,365.7) rotate(-90)" font-size="10.6" text-anchor="middle" fill="#111" stroke="#111" stroke-width="0.2">Pooling</text>
<rect x="456.7" y="213.70" width="18.2" height="16.55" fill="#f9dbd9" stroke="#5a5a66" stroke-width="0.8"/>
<rect x="456.7" y="230.25" width="18.2" height="16.55" fill="#8694ae" stroke="#5a5a66" stroke-width="0.8"/>
<rect x="456.7" y="246.80" width="18.2" height="16.55" fill="#f9dbd9" stroke="#5a5a66" stroke-width="0.8"/>
<rect x="456.7" y="263.35" width="18.2" height="16.55" fill="#ffffff" stroke="#5a5a66" stroke-width="0.8"/>
<rect x="456.7" y="279.90" width="18.2" height="16.55" fill="#f9dbd9" stroke="#5a5a66" stroke-width="0.8"/>
<rect x="456.7" y="296.45" width="18.2" height="16.55" fill="#4f9f86" stroke="#5a5a66" stroke-width="0.8"/>
<rect x="456.7" y="313.00" width="18.2" height="16.55" fill="#8694ae" stroke="#5a5a66" stroke-width="0.8"/>
<rect x="456.7" y="329.55" width="18.2" height="16.55" fill="#8694ae" stroke="#5a5a66" stroke-width="0.8"/>
<rect x="456.7" y="346.10" width="18.2" height="16.55" fill="#8694ae" stroke="#5a5a66" stroke-width="0.8"/>
<rect x="463.2" y="222.00" width="18.2" height="16.55" fill="#f9dbd9" stroke="#5a5a66" stroke-width="0.8"/>
<rect x="463.2" y="238.55" width="18.2" height="16.55" fill="#8694ae" stroke="#5a5a66" stroke-width="0.8"/>
<rect x="463.2" y="255.10" width="18.2" height="16.55" fill="#f9dbd9" stroke="#5a5a66" stroke-width="0.8"/>
<rect x="463.2" y="271.65" width="18.2" height="16.55" fill="#ffffff" stroke="#5a5a66" stroke-width="0.8"/>
<rect x="463.2" y="288.20" width="18.2" height="16.55" fill="#f9dbd9" stroke="#5a5a66" stroke-width="0.8"/>
<rect x="463.2" y="304.75" width="18.2" height="16.55" fill="#4f9f86" stroke="#5a5a66" stroke-width="0.8"/>
<rect x="463.2" y="321.30" width="18.2" height="16.55" fill="#8694ae" stroke="#5a5a66" stroke-width="0.8"/>
<rect x="463.2" y="337.85" width="18.2" height="16.55" fill="#8694ae" stroke="#5a5a66" stroke-width="0.8"/>
<rect x="463.2" y="354.40" width="18.2" height="16.55" fill="#8694ae" stroke="#5a5a66" stroke-width="0.8"/>
<rect x="469.5" y="230.00" width="18.2" height="16.55" fill="#f9dbd9" stroke="#5a5a66" stroke-width="0.8"/>
<rect x="469.5" y="246.55" width="18.2" height="16.55" fill="#8694ae" stroke="#5a5a66" stroke-width="0.8"/>
<rect x="469.5" y="263.10" width="18.2" height="16.55" fill="#f9dbd9" stroke="#5a5a66" stroke-width="0.8"/>
<rect x="469.5" y="279.65" width="18.2" height="16.55" fill="#ffffff" stroke="#5a5a66" stroke-width="0.8"/>
<circle cx="475.70" cy="288.22" r="0.6" fill="#444"/>
<circle cx="478.60" cy="288.22" r="0.6" fill="#444"/>
<circle cx="481.50" cy="288.22" r="0.6" fill="#444"/>
<rect x="469.5" y="296.20" width="18.2" height="16.55" fill="#f9dbd9" stroke="#5a5a66" stroke-width="0.8"/>
<rect x="469.5" y="312.75" width="18.2" height="16.55" fill="#4f9f86" stroke="#5a5a66" stroke-width="0.8"/>
<rect x="469.5" y="329.30" width="18.2" height="16.55" fill="#8694ae" stroke="#5a5a66" stroke-width="0.8"/>
<rect x="469.5" y="345.85" width="18.2" height="16.55" fill="#8694ae" stroke="#5a5a66" stroke-width="0.8"/>
<rect x="469.5" y="362.40" width="18.2" height="16.55" fill="#8694ae" stroke="#5a5a66" stroke-width="0.8"/>
<rect x="496.1" y="258" width="27.2" height="68.9" fill="#49a5b6" stroke="#3f97a8" stroke-width="0.7"/>
<text transform="translate(514.3,286.8) rotate(-90)" font-size="12.3" text-anchor="middle" fill="#0f2f48" stroke="#0f2f48" stroke-width="0.2">Decoder</text>
<rect x="533.7" y="227.00" width="18.2" height="16.54" fill="#8694ae" stroke="#4d5669" stroke-width="0.8"/>
<rect x="533.7" y="243.54" width="18.2" height="16.54" fill="#8694ae" stroke="#4d5669" stroke-width="0.8"/>
<rect x="533.7" y="260.08" width="18.2" height="16.54" fill="#8694ae" stroke="#4d5669" stroke-width="0.8"/>
<rect x="533.7" y="276.62" width="18.2" height="16.54" fill="#ffffff" stroke="#4d5669" stroke-width="0.8"/>
<rect x="533.7" y="293.16" width="18.2" height="16.54" fill="#8694ae" stroke="#4d5669" stroke-width="0.8"/>
<rect x="533.7" y="309.70" width="18.2" height="16.54" fill="#8694ae" stroke="#4d5669" stroke-width="0.8"/>
<rect x="533.7" y="326.24" width="18.2" height="16.54" fill="#8694ae" stroke="#4d5669" stroke-width="0.8"/>
<rect x="541.7" y="236.30" width="18.2" height="16.54" fill="#8694ae" stroke="#4d5669" stroke-width="0.8"/>
<rect x="541.7" y="252.84" width="18.2" height="16.54" fill="#8694ae" stroke="#4d5669" stroke-width="0.8"/>
<rect x="541.7" y="269.38" width="18.2" height="16.54" fill="#8694ae" stroke="#4d5669" stroke-width="0.8"/>
<rect x="541.7" y="285.92" width="18.2" height="16.54" fill="#ffffff" stroke="#4d5669" stroke-width="0.8"/>
<rect x="541.7" y="302.46" width="18.2" height="16.54" fill="#8694ae" stroke="#4d5669" stroke-width="0.8"/>
<rect x="541.7" y="319.00" width="18.2" height="16.54" fill="#8694ae" stroke="#4d5669" stroke-width="0.8"/>
<rect x="541.7" y="335.54" width="18.2" height="16.54" fill="#8694ae" stroke="#4d5669" stroke-width="0.8"/>
<rect x="548.7" y="246.70" width="18.2" height="16.54" fill="#8694ae" stroke="#4d5669" stroke-width="0.8"/>
<rect x="548.7" y="263.24" width="18.2" height="16.54" fill="#8694ae" stroke="#4d5669" stroke-width="0.8"/>
<rect x="548.7" y="279.78" width="18.2" height="16.54" fill="#8694ae" stroke="#4d5669" stroke-width="0.8"/>
<rect x="548.7" y="296.32" width="18.2" height="16.54" fill="#ffffff" stroke="#4d5669" stroke-width="0.8"/>
<circle cx="554.90" cy="304.89" r="0.6" fill="#444"/>
<circle cx="557.80" cy="304.89" r="0.6" fill="#444"/>
<circle cx="560.70" cy="304.89" r="0.6" fill="#444"/>
<rect x="548.7" y="312.86" width="18.2" height="16.54" fill="#8694ae" stroke="#4d5669" stroke-width="0.8"/>
<rect x="548.7" y="329.40" width="18.2" height="16.54" fill="#8694ae" stroke="#4d5669" stroke-width="0.8"/>
<rect x="548.7" y="345.94" width="18.2" height="16.54" fill="#8694ae" stroke="#4d5669" stroke-width="0.8"/>
<rect x="574" y="258.1" width="27.2" height="68.8" fill="#49a5b6" stroke="#3f97a8" stroke-width="0.7"/>
<text transform="translate(592.1,288.3) rotate(-90)" font-size="12.3" text-anchor="middle" fill="#0f2f48" stroke="#0f2f48" stroke-width="0.2">MLP</text>
<rect x="609.5" y="227.40" width="18.6" height="16.5" fill="#8694ae" stroke="#4d5669" stroke-width="0.8"/>
<rect x="609.5" y="243.90" width="18.6" height="16.5" fill="#8694ae" stroke="#4d5669" stroke-width="0.8"/>
<rect x="609.5" y="260.40" width="18.6" height="16.5" fill="#8694ae" stroke="#4d5669" stroke-width="0.8"/>
<rect x="609.5" y="276.90" width="18.6" height="16.5" fill="#ffffff" stroke="#4d5669" stroke-width="0.8"/>
<circle cx="617.20" cy="285.65" r="0.45" fill="#444"/>
<circle cx="618.80" cy="285.65" r="0.45" fill="#444"/>
<circle cx="620.40" cy="285.65" r="0.45" fill="#444"/>
<rect x="609.5" y="293.40" width="18.6" height="16.5" fill="#8694ae" stroke="#4d5669" stroke-width="0.8"/>
<rect x="609.5" y="309.90" width="18.6" height="16.5" fill="#8694ae" stroke="#4d5669" stroke-width="0.8"/>
<rect x="609.5" y="326.40" width="18.6" height="16.5" fill="#8694ae" stroke="#4d5669" stroke-width="0.8"/>
<rect x="455.00" y="388.2" width="18.5" height="17.2" fill="#3b4d7e" stroke="#2a3558" stroke-width="0.8"/>
<rect x="473.50" y="388.2" width="18.5" height="17.2" fill="#ffffff" stroke="#2a3558" stroke-width="0.8"/>
<circle cx="480.85" cy="397.30" r="0.55" fill="#444"/>
<circle cx="482.75" cy="397.30" r="0.55" fill="#444"/>
<circle cx="484.65" cy="397.30" r="0.55" fill="#444"/>
<rect x="492.00" y="388.2" width="18.5" height="17.2" fill="#3b4d7e" stroke="#2a3558" stroke-width="0.8"/>
<rect x="510.50" y="388.2" width="18.5" height="17.2" fill="#3b4d7e" stroke="#2a3558" stroke-width="0.8"/>
<rect x="529.00" y="388.2" width="18.5" height="17.2" fill="#3b4d7e" stroke="#2a3558" stroke-width="0.8"/>
<text x="550.5" y="400.8" font-size="10.9" text-anchor="start" fill="#111" stroke="#111" stroke-width="0.2" >Cell embedding</text>
<text x="0.5" y="419.5" font-size="14.5" text-anchor="start" fill="#111" stroke="#111" stroke-width="0.2" >c</text>
<text x="114.5" y="425.5" font-size="12.37" text-anchor="middle" fill="#111" stroke="#111" stroke-width="0.2" >Clustering</text>
<rect x="13.5" y="430" width="197.5" height="84" rx="8" fill="#fff" stroke="#c9c9c9" stroke-width="1"/>
<text x="116.5" y="526.8" font-size="12.34" text-anchor="middle" fill="#111" stroke="#111" stroke-width="0.2" >Annotation</text>
<rect x="13.5" y="531.5" width="197" height="82" rx="8" fill="#fff" stroke="#c9c9c9" stroke-width="1"/>
<text x="328" y="425.8" font-size="12.42" text-anchor="middle" fill="#111" stroke="#111" stroke-width="0.2" >Drug response prediction</text>
<rect x="220.5" y="430" width="199.3" height="84" rx="8" fill="#fff" stroke="#c9c9c9" stroke-width="1"/>
<text x="331.7" y="526.8" font-size="12.43" text-anchor="middle" fill="#111" stroke="#111" stroke-width="0.2" >Gene module inference</text>
<rect x="221.5" y="531" width="199" height="84.3" rx="8" fill="#fff" stroke="#c9c9c9" stroke-width="1"/>
<text x="538" y="425.5" font-size="12.39" text-anchor="middle" fill="#111" stroke="#111" stroke-width="0.2" >Perturbation prediction</text>
<rect x="432.5" y="430" width="198" height="84" rx="8" fill="#fff" stroke="#c9c9c9" stroke-width="1"/>
<circle cx="23.9" cy="448.6" r="3.3" fill="#c4202f" stroke="#9a1824" stroke-width="0.4"/>
<circle cx="34.4" cy="447.6" r="3.3" fill="#c4202f" stroke="#9a1824" stroke-width="0.4"/>
<circle cx="47" cy="449" r="3.3" fill="#2b9272" stroke="#1f6f56" stroke-width="0.4"/>
<circle cx="60.8" cy="452.5" r="3.3" fill="#c4202f" stroke="#9a1824" stroke-width="0.4"/>
<circle cx="29.5" cy="455.8" r="3.3" fill="#47a6b9" stroke="#3a8ea0" stroke-width="0.4"/>
<circle cx="44.3" cy="460.3" r="3.3" fill="#47a6b9" stroke="#3a8ea0" stroke-width="0.4"/>
<circle cx="54.4" cy="459.7" r="3.3" fill="#c4202f" stroke="#9a1824" stroke-width="0.4"/>
<circle cx="33.4" cy="466.1" r="3.3" fill="#c4202f" stroke="#9a1824" stroke-width="0.4"/>
<circle cx="57" cy="468.4" r="3.3" fill="#2b9272" stroke="#1f6f56" stroke-width="0.4"/>
<circle cx="67.4" cy="468" r="3.3" fill="#2b9272" stroke="#1f6f56" stroke-width="0.4"/>
<circle cx="27.6" cy="473.9" r="3.3" fill="#47a6b9" stroke="#3a8ea0" stroke-width="0.4"/>
<circle cx="44.3" cy="475.8" r="3.3" fill="#47a6b9" stroke="#3a8ea0" stroke-width="0.4"/>
<circle cx="31.7" cy="479.7" r="3.3" fill="#47a6b9" stroke="#3a8ea0" stroke-width="0.4"/>
<circle cx="55.8" cy="481.6" r="3.3" fill="#2b9272" stroke="#1f6f56" stroke-width="0.4"/>
<circle cx="40.4" cy="489.8" r="3.3" fill="#47a6b9" stroke="#3a8ea0" stroke-width="0.4"/>
<circle cx="50.5" cy="489.4" r="3.3" fill="#c4202f" stroke="#9a1824" stroke-width="0.4"/>
<line x1="84.8" y1="470" x2="109.50" y2="470.00" stroke="#222" stroke-width="0.9"/>
<polygon points="116.80,470.00 109.50,474.30 109.50,465.70" fill="#111"/>
<circle cx="141.9" cy="451.4" r="17" fill="#f5b6ba" stroke="#444" stroke-width="0.95" stroke-dasharray="3,2"/>
<circle cx="186.1" cy="464.5" r="17.4" fill="#c4dfd3" stroke="#444" stroke-width="0.95" stroke-dasharray="3,2"/>
<circle cx="148.5" cy="489.7" r="17.2" fill="#c6e4ee" stroke="#444" stroke-width="0.95" stroke-dasharray="3,2"/>
<circle cx="147.2" cy="445.3" r="3.2" fill="#c4202f" stroke="#9a1824" stroke-width="0.4"/>
<circle cx="131" cy="451.8" r="3.2" fill="#c4202f" stroke="#9a1824" stroke-width="0.4"/>
<circle cx="141.7" cy="451.4" r="3.2" fill="#c4202f" stroke="#9a1824" stroke-width="0.4"/>
<circle cx="153.3" cy="451.8" r="3.2" fill="#c4202f" stroke="#9a1824" stroke-width="0.4"/>
<circle cx="136.4" cy="458" r="3.2" fill="#c4202f" stroke="#9a1824" stroke-width="0.4"/>
<circle cx="146.7" cy="458.6" r="3.2" fill="#c4202f" stroke="#9a1824" stroke-width="0.4"/>
<circle cx="182.2" cy="459.7" r="3.2" fill="#2b9272" stroke="#1f6f56" stroke-width="0.4"/>
<circle cx="193.1" cy="459.1" r="3.2" fill="#2b9272" stroke="#1f6f56" stroke-width="0.4"/>
<circle cx="187.9" cy="466.3" r="3.2" fill="#2b9272" stroke="#1f6f56" stroke-width="0.4"/>
<circle cx="181.1" cy="473.3" r="3.2" fill="#2b9272" stroke="#1f6f56" stroke-width="0.4"/>
<circle cx="141.9" cy="482" r="3.2" fill="#47a6b9" stroke="#3a8ea0" stroke-width="0.4"/>
<circle cx="150.4" cy="486.9" r="3.2" fill="#47a6b9" stroke="#3a8ea0" stroke-width="0.4"/>
<circle cx="139.5" cy="489.3" r="3.2" fill="#47a6b9" stroke="#3a8ea0" stroke-width="0.4"/>
<circle cx="157" cy="491.4" r="3.2" fill="#47a6b9" stroke="#3a8ea0" stroke-width="0.4"/>
<circle cx="144.1" cy="495.6" r="3.2" fill="#47a6b9" stroke="#3a8ea0" stroke-width="0.4"/>
<circle cx="152.2" cy="499.5" r="3.2" fill="#47a6b9" stroke="#3a8ea0" stroke-width="0.4"/>
<circle cx="29.9" cy="551.9" r="3.4" fill="#000"/>
<circle cx="140.3" cy="551.9" r="3.2" fill="#c4202f" stroke="#9a1824" stroke-width="0.4"/>
<circle cx="40.4" cy="550.9" r="3.4" fill="#000"/>
<circle cx="150.8" cy="550.9" r="3.2" fill="#c4202f" stroke="#9a1824" stroke-width="0.4"/>
<circle cx="53.0" cy="552.3" r="3.4" fill="#000"/>
<circle cx="163.4" cy="552.3" r="3.2" fill="#2b9272" stroke="#1f6f56" stroke-width="0.4"/>
<circle cx="66.8" cy="555.8" r="3.4" fill="#000"/>
<circle cx="177.2" cy="555.8" r="3.2" fill="#c4202f" stroke="#9a1824" stroke-width="0.4"/>
<circle cx="35.5" cy="559.1" r="3.4" fill="#000"/>
<circle cx="145.9" cy="559.1" r="3.2" fill="#47a6b9" stroke="#3a8ea0" stroke-width="0.4"/>
<circle cx="50.3" cy="563.6" r="3.4" fill="#000"/>
<circle cx="160.7" cy="563.6" r="3.2" fill="#47a6b9" stroke="#3a8ea0" stroke-width="0.4"/>
<circle cx="60.4" cy="563.0" r="3.4" fill="#000"/>
<circle cx="170.8" cy="563.0" r="3.2" fill="#c4202f" stroke="#9a1824" stroke-width="0.4"/>
<circle cx="39.4" cy="569.4" r="3.4" fill="#000"/>
<circle cx="149.8" cy="569.4" r="3.2" fill="#c4202f" stroke="#9a1824" stroke-width="0.4"/>
<circle cx="63.0" cy="571.7" r="3.4" fill="#000"/>
<circle cx="173.4" cy="571.7" r="3.2" fill="#2b9272" stroke="#1f6f56" stroke-width="0.4"/>
<circle cx="73.4" cy="571.3" r="3.4" fill="#000"/>
<circle cx="183.8" cy="571.3" r="3.2" fill="#2b9272" stroke="#1f6f56" stroke-width="0.4"/>
<circle cx="33.6" cy="577.2" r="3.4" fill="#000"/>
<circle cx="144.0" cy="577.2" r="3.2" fill="#47a6b9" stroke="#3a8ea0" stroke-width="0.4"/>
<circle cx="50.3" cy="579.1" r="3.4" fill="#000"/>
<circle cx="160.7" cy="579.1" r="3.2" fill="#47a6b9" stroke="#3a8ea0" stroke-width="0.4"/>
<circle cx="37.7" cy="583.0" r="3.4" fill="#000"/>
<circle cx="148.1" cy="583.0" r="3.2" fill="#47a6b9" stroke="#3a8ea0" stroke-width="0.4"/>
<circle cx="61.8" cy="584.9" r="3.4" fill="#000"/>
<circle cx="172.2" cy="584.9" r="3.2" fill="#2b9272" stroke="#1f6f56" stroke-width="0.4"/>
<circle cx="46.4" cy="593.1" r="3.4" fill="#000"/>
<circle cx="156.8" cy="593.1" r="3.2" fill="#47a6b9" stroke="#3a8ea0" stroke-width="0.4"/>
<circle cx="56.5" cy="592.7" r="3.4" fill="#000"/>
<circle cx="166.9" cy="592.7" r="3.2" fill="#c4202f" stroke="#9a1824" stroke-width="0.4"/>
<line x1="87" y1="567.5" x2="111.30" y2="567.50" stroke="#222" stroke-width="0.9"/>
<polygon points="118.60,567.50 111.30,571.80 111.30,563.20" fill="#111"/>
<g transform="translate(245,452.3) rotate(37)"><rect x="-12" y="-5.5" width="24" height="11" rx="5.5" fill="url(#pillg)"/><rect x="-6.4" y="-5.5" width="1.7" height="11" fill="#fff"/></g>
<g transform="translate(247.9,488) scale(0.078) translate(-293,-295)" fill="none" stroke="#111" stroke-width="12" stroke-linecap="round">
<path d="M200,95 C235,78 320,90 380,130 C450,175 510,240 510,310 C510,380 470,450 390,485 C330,510 250,505 180,460 C120,420 80,350 75,280 C72,235 90,205 130,190 C165,178 180,160 182,130 C183,112 188,100 200,95 Z" fill="#fff"/>
<ellipse cx="278" cy="292" rx="66" ry="52" transform="rotate(15 278 292)" fill="#111" stroke="none"/>
<path d="M185,225 C160,290 185,350 235,372" stroke-width="8.5"/>
<path d="M268,212 C310,200 355,225 372,262" stroke-width="8.5"/>
<path d="M262,385 C310,410 390,395 388,328" stroke-width="8.5"/>
<path d="M335,350 C335,380 355,392 365,372" stroke-width="8.5"/>
<ellipse cx="140" cy="230" rx="14" ry="24" transform="rotate(30 140 230)" fill="#111" stroke="none"/>
<ellipse cx="415" cy="225" rx="15" ry="32" transform="rotate(-8 415 225)" fill="#111" stroke="none"/>
<ellipse cx="230" cy="437" rx="13" ry="10" fill="#111" stroke="none"/>
<ellipse cx="393" cy="442" rx="30" ry="17" fill="#111" stroke="none"/>
</g>
<line x1="263" y1="470.2" x2="287.70" y2="470.20" stroke="#222" stroke-width="0.9"/>
<polygon points="295.00,470.20 287.70,474.50 287.70,465.90" fill="#111"/>
<line x1="315.4" y1="451.7" x2="328.40000000000003" y2="451.7" stroke="#3f444c" stroke-width="0.7"/>
<line x1="315.4" y1="451.7" x2="328.40000000000003" y2="470.3" stroke="#3f444c" stroke-width="0.7"/>
<line x1="315.4" y1="451.7" x2="328.40000000000003" y2="489" stroke="#3f444c" stroke-width="0.7"/>
<line x1="315.4" y1="470.3" x2="328.40000000000003" y2="451.7" stroke="#3f444c" stroke-width="0.7"/>
<line x1="315.4" y1="470.3" x2="328.40000000000003" y2="470.3" stroke="#3f444c" stroke-width="0.7"/>
<line x1="315.4" y1="470.3" x2="328.40000000000003" y2="489" stroke="#3f444c" stroke-width="0.7"/>
<line x1="315.4" y1="489" x2="328.40000000000003" y2="451.7" stroke="#3f444c" stroke-width="0.7"/>
<line x1="315.4" y1="489" x2="328.40000000000003" y2="470.3" stroke="#3f444c" stroke-width="0.7"/>
<line x1="315.4" y1="489" x2="328.40000000000003" y2="489" stroke="#3f444c" stroke-width="0.7"/>
<polygon points="330.40,451.70 325.20,454.50 325.20,448.90" fill="#4a5058"/>
<polygon points="330.40,451.70 329.32,457.51 324.96,453.99" fill="#4a5058"/>
<polygon points="330.40,451.70 331.06,457.57 325.86,455.48" fill="#4a5058"/>
<polygon points="330.40,470.30 324.96,468.01 329.32,464.49" fill="#4a5058"/>
<polygon points="330.40,470.30 325.20,473.10 325.20,467.50" fill="#4a5058"/>
<polygon points="330.40,470.30 329.33,476.11 324.96,472.60" fill="#4a5058"/>
<polygon points="330.40,489.00 325.86,485.22 331.06,483.13" fill="#4a5058"/>
<polygon points="330.40,489.00 324.96,486.70 329.33,483.19" fill="#4a5058"/>
<polygon points="330.40,489.00 325.20,491.80 325.20,486.20" fill="#4a5058"/>
<circle cx="308.5" cy="451.7" r="7.2" fill="#2b9272" stroke="#1f6f56" stroke-width="0.9"/>
<circle cx="338" cy="451.7" r="7.2" fill="#44a9ba" stroke="#2f8a9a" stroke-width="0.9"/>
<circle cx="308.5" cy="470.3" r="7.2" fill="#2b9272" stroke="#1f6f56" stroke-width="0.9"/>
<circle cx="338" cy="470.3" r="7.2" fill="#44a9ba" stroke="#2f8a9a" stroke-width="0.9"/>
<circle cx="308.5" cy="489" r="7.2" fill="#2b9272" stroke="#1f6f56" stroke-width="0.9"/>
<circle cx="338" cy="489" r="7.2" fill="#44a9ba" stroke="#2f8a9a" stroke-width="0.9"/>
<line x1="346" y1="455" x2="352.54" y2="461.20" stroke="#4a4a4a" stroke-width="0.8"/>
<polygon points="355.80,464.30 350.99,462.83 354.08,459.57" fill="#4a4a4a"/>
<line x1="346" y1="470.3" x2="349.00" y2="470.30" stroke="#4a4a4a" stroke-width="0.8"/>
<polygon points="353.50,470.30 349.00,472.55 349.00,468.05" fill="#4a4a4a"/>
<line x1="346" y1="486" x2="352.49" y2="480.04" stroke="#4a4a4a" stroke-width="0.8"/>
<polygon points="355.80,477.00 354.01,481.70 350.96,478.39" fill="#4a4a4a"/>
<g transform="translate(380.5,468.6) scale(0.078) translate(-293,-295)" fill="none" stroke="#23382f" stroke-width="12" stroke-linecap="round">
<path d="M200,95 C235,78 320,90 380,130 C450,175 510,240 510,310 C510,380 470,450 390,485 C330,510 250,505 180,460 C120,420 80,350 75,280 C72,235 90,205 130,190 C165,178 180,160 182,130 C183,112 188,100 200,95 Z" fill="#fff"/>
<ellipse cx="278" cy="292" rx="66" ry="52" transform="rotate(15 278 292)" fill="#1f4636" stroke="none"/>
<path d="M185,225 C160,290 185,350 235,372" stroke-width="8.5"/>
<path d="M268,212 C310,200 355,225 372,262" stroke-width="8.5"/>
<path d="M262,385 C310,410 390,395 388,328" stroke-width="8.5"/>
<path d="M335,350 C335,380 355,392 365,372" stroke-width="8.5"/>
<ellipse cx="140" cy="230" rx="14" ry="24" transform="rotate(30 140 230)" fill="#1f4636" stroke="none"/>
<ellipse cx="415" cy="225" rx="15" ry="32" transform="rotate(-8 415 225)" fill="#1f4636" stroke="none"/>
<ellipse cx="230" cy="437" rx="13" ry="10" fill="#1f4636" stroke="none"/>
<ellipse cx="393" cy="442" rx="30" ry="17" fill="#1f4636" stroke="none"/>
</g>
<text x="384.8" y="500" font-size="7.95" text-anchor="middle" fill="#111" stroke="#111" stroke-width="0.2" >Resistant/Sensitive</text>
<text x="386" y="509.7" font-size="7.8" text-anchor="middle" fill="#111" stroke="#111" stroke-width="0.2" >IC50</text>
<g transform="translate(246,573.4) scale(0.078) translate(-293,-295)" fill="none" stroke="#111" stroke-width="12" stroke-linecap="round">
<path d="M200,95 C235,78 320,90 380,130 C450,175 510,240 510,310 C510,380 470,450 390,485 C330,510 250,505 180,460 C120,420 80,350 75,280 C72,235 90,205 130,190 C165,178 180,160 182,130 C183,112 188,100 200,95 Z" fill="#fff"/>
<ellipse cx="278" cy="292" rx="66" ry="52" transform="rotate(15 278 292)" fill="#111" stroke="none"/>
<path d="M185,225 C160,290 185,350 235,372" stroke-width="8.5"/>
<path d="M268,212 C310,200 355,225 372,262" stroke-width="8.5"/>
<path d="M262,385 C310,410 390,395 388,328" stroke-width="8.5"/>
<path d="M335,350 C335,380 355,392 365,372" stroke-width="8.5"/>
<ellipse cx="140" cy="230" rx="14" ry="24" transform="rotate(30 140 230)" fill="#111" stroke="none"/>
<ellipse cx="415" cy="225" rx="15" ry="32" transform="rotate(-8 415 225)" fill="#111" stroke="none"/>
<ellipse cx="230" cy="437" rx="13" ry="10" fill="#111" stroke="none"/>
<ellipse cx="393" cy="442" rx="30" ry="17" fill="#111" stroke="none"/>
</g>
<path d="M273.5,536.2 C269.5,537.2 270.0,540.2 270.0,545.2 L270.0,565.25 C270.0,570.25 269.0,572.25 266,573.25 C269.0,574.25 270.0,576.25 270.0,581.25 L270.0,601.3 C270.0,606.3 269.5,609.3 273.5,610.3" fill="none" stroke="#333" stroke-width="0.8"/>
<g transform="translate(278.2,545) rotate(-47) scale(1.0)" fill="none" stroke="#555" stroke-width="0.8">
<path d="M-5.7,-3.6 L-5.7,3.6 M5.7,-3.6 L5.7,3.6" stroke-width="1.1"/><path d="M-5.7,-2.7 L5.7,2.7 M-5.7,2.7 L5.7,-2.7 M-3.7,-1.75 L-3.7,1.75 M3.7,-1.75 L3.7,1.75" stroke-width="0.7"/>
</g>
<g transform="translate(293.7,545) rotate(-47) scale(1.0)" fill="none" stroke="#555" stroke-width="0.8">
<path d="M-5.7,-3.6 L-5.7,3.6 M5.7,-3.6 L5.7,3.6" stroke-width="1.1"/><path d="M-5.7,-2.7 L5.7,2.7 M-5.7,2.7 L5.7,-2.7 M-3.7,-1.75 L-3.7,1.75 M3.7,-1.75 L3.7,1.75" stroke-width="0.7"/>
</g>
<g transform="translate(307.8,545) rotate(-47) scale(1.0)" fill="none" stroke="#555" stroke-width="0.8">
<path d="M-5.7,-3.6 L-5.7,3.6 M5.7,-3.6 L5.7,3.6" stroke-width="1.1"/><path d="M-5.7,-2.7 L5.7,2.7 M-5.7,2.7 L5.7,-2.7 M-3.7,-1.75 L-3.7,1.75 M3.7,-1.75 L3.7,1.75" stroke-width="0.7"/>
</g>
<g transform="translate(307.4,564.4) rotate(-47) scale(1.0)" fill="none" stroke="#a7c6bd" stroke-width="0.8">
<path d="M-5.7,-3.6 L-5.7,3.6 M5.7,-3.6 L5.7,3.6" stroke-width="1.1"/><path d="M-5.7,-2.7 L5.7,2.7 M-5.7,2.7 L5.7,-2.7 M-3.7,-1.75 L-3.7,1.75 M3.7,-1.75 L3.7,1.75" stroke-width="0.7"/>
</g>
<g transform="translate(292.2,586) rotate(-47) scale(1.0)" fill="none" stroke="#aec4d2" stroke-width="0.8">
<path d="M-5.7,-3.6 L-5.7,3.6 M5.7,-3.6 L5.7,3.6" stroke-width="1.1"/><path d="M-5.7,-2.7 L5.7,2.7 M-5.7,2.7 L5.7,-2.7 M-3.7,-1.75 L-3.7,1.75 M3.7,-1.75 L3.7,1.75" stroke-width="0.7"/>
</g>
<g transform="translate(307.4,587.5) rotate(-47) scale(1.0)" fill="none" stroke="#8fa9a6" stroke-width="0.8">
<path d="M-5.7,-3.6 L-5.7,3.6 M5.7,-3.6 L5.7,3.6" stroke-width="1.1"/><path d="M-5.7,-2.7 L5.7,2.7 M-5.7,2.7 L5.7,-2.7 M-3.7,-1.75 L-3.7,1.75 M3.7,-1.75 L3.7,1.75" stroke-width="0.7"/>
</g>
<circle cx="288.80" cy="606.50" r="0.8" fill="#111"/>
<circle cx="292.00" cy="606.50" r="0.8" fill="#111"/>
<circle cx="295.20" cy="606.50" r="0.8" fill="#111"/>
<line x1="319" y1="567.8" x2="343.60" y2="567.80" stroke="#222" stroke-width="0.9"/>
<polygon points="350.90,567.80 343.60,572.10 343.60,563.50" fill="#111"/>
<line x1="382.2" y1="544.1" x2="368.7" y2="557.4" stroke="#222" stroke-width="0.9"/>
<line x1="368.7" y1="557.4" x2="383.1" y2="575.1" stroke="#222" stroke-width="0.9"/>
<line x1="368.7" y1="557.4" x2="364.9" y2="594.4" stroke="#222" stroke-width="0.9"/>
<line x1="398.1" y1="549.4" x2="383.1" y2="575.1" stroke="#222" stroke-width="0.9"/>
<line x1="398.1" y1="549.4" x2="413.1" y2="566.6" stroke="#222" stroke-width="0.9"/>
<line x1="413.1" y1="566.6" x2="383.1" y2="575.1" stroke="#222" stroke-width="0.9"/>
<line x1="383.1" y1="575.1" x2="400.4" y2="586.3" stroke="#222" stroke-width="0.9"/>
<line x1="383.1" y1="575.1" x2="364.9" y2="594.4" stroke="#222" stroke-width="0.9"/>
<line x1="364.9" y1="594.4" x2="400.4" y2="586.3" stroke="#222" stroke-width="0.9"/>
<circle cx="382.2" cy="544.1" r="3.6" fill="#000"/>
<circle cx="368.7" cy="557.4" r="3.6" fill="#000"/>
<circle cx="398.1" cy="549.4" r="3.6" fill="#000"/>
<circle cx="413.1" cy="566.6" r="3.6" fill="#000"/>
<circle cx="383.1" cy="575.1" r="3.6" fill="#000"/>
<circle cx="400.4" cy="586.3" r="3.6" fill="#000"/>
<circle cx="364.9" cy="594.4" r="3.6" fill="#000"/>
<polygon points="458.5,441.5 453.5,449.5 457,449.2 454.5,454.5 462,446 458,446.3 461.5,441.5" fill="#f2b632"/>
<g transform="translate(453.6,473.3) scale(0.078) translate(-293,-295)" fill="none" stroke="#111" stroke-width="12" stroke-linecap="round">
<path d="M200,95 C235,78 320,90 380,130 C450,175 510,240 510,310 C510,380 470,450 390,485 C330,510 250,505 180,460 C120,420 80,350 75,280 C72,235 90,205 130,190 C165,178 180,160 182,130 C183,112 188,100 200,95 Z" fill="#fff"/>
<ellipse cx="278" cy="292" rx="66" ry="52" transform="rotate(15 278 292)" fill="#111" stroke="none"/>
<path d="M185,225 C160,290 185,350 235,372" stroke-width="8.5"/>
<path d="M268,212 C310,200 355,225 372,262" stroke-width="8.5"/>
<path d="M262,385 C310,410 390,395 388,328" stroke-width="8.5"/>
<path d="M335,350 C335,380 355,392 365,372" stroke-width="8.5"/>
<ellipse cx="140" cy="230" rx="14" ry="24" transform="rotate(30 140 230)" fill="#111" stroke="none"/>
<ellipse cx="415" cy="225" rx="15" ry="32" transform="rotate(-8 415 225)" fill="#111" stroke="none"/>
<ellipse cx="230" cy="437" rx="13" ry="10" fill="#111" stroke="none"/>
<ellipse cx="393" cy="442" rx="30" ry="17" fill="#111" stroke="none"/>
</g>
<path d="M481.4,443.2 C477.4,444.2 477.9,447.2 477.9,452.2 L477.9,460.95 C477.9,465.95 476.9,467.95 474.6,468.95 C476.9,469.95 477.9,471.95 477.9,476.95 L477.9,485.7 C477.9,490.7 477.4,493.7 481.4,494.7" fill="none" stroke="#333" stroke-width="0.8"/>
<g transform="translate(488.2,452.2) rotate(-47) scale(1.0)" fill="none" stroke="#555" stroke-width="0.8">
<path d="M-5.7,-3.6 L-5.7,3.6 M5.7,-3.6 L5.7,3.6" stroke-width="1.1"/><path d="M-5.7,-2.7 L5.7,2.7 M-5.7,2.7 L5.7,-2.7 M-3.7,-1.75 L-3.7,1.75 M3.7,-1.75 L3.7,1.75" stroke-width="0.7"/>
</g>
<g transform="translate(501.3,452.2) rotate(-47) scale(1.0)" fill="none" stroke="#555" stroke-width="0.8">
<path d="M-5.7,-3.6 L-5.7,3.6 M5.7,-3.6 L5.7,3.6" stroke-width="1.1"/><path d="M-5.7,-2.7 L5.7,2.7 M-5.7,2.7 L5.7,-2.7 M-3.7,-1.75 L-3.7,1.75 M3.7,-1.75 L3.7,1.75" stroke-width="0.7"/>
</g>
<g transform="translate(515.9,452.2) rotate(-47) scale(1.0)" fill="none" stroke="#555" stroke-width="0.8">
<path d="M-5.7,-3.6 L-5.7,3.6 M5.7,-3.6 L5.7,3.6" stroke-width="1.1"/><path d="M-5.7,-2.7 L5.7,2.7 M-5.7,2.7 L5.7,-2.7 M-3.7,-1.75 L-3.7,1.75 M3.7,-1.75 L3.7,1.75" stroke-width="0.7"/>
</g>
<g transform="translate(516.4,470.2) rotate(-47) scale(1.0)" fill="none" stroke="#a7c6bd" stroke-width="0.8">
<path d="M-5.7,-3.6 L-5.7,3.6 M5.7,-3.6 L5.7,3.6" stroke-width="1.1"/><path d="M-5.7,-2.7 L5.7,2.7 M-5.7,2.7 L5.7,-2.7 M-3.7,-1.75 L-3.7,1.75 M3.7,-1.75 L3.7,1.75" stroke-width="0.7"/>
</g>
<g transform="translate(501.3,489.6) rotate(-47) scale(1.0)" fill="none" stroke="#aec4d2" stroke-width="0.8">
<path d="M-5.7,-3.6 L-5.7,3.6 M5.7,-3.6 L5.7,3.6" stroke-width="1.1"/><path d="M-5.7,-2.7 L5.7,2.7 M-5.7,2.7 L5.7,-2.7 M-3.7,-1.75 L-3.7,1.75 M3.7,-1.75 L3.7,1.75" stroke-width="0.7"/>
</g>
<g transform="translate(515.5,489.6) rotate(-47) scale(1.0)" fill="none" stroke="#8fa9a6" stroke-width="0.8">
<path d="M-5.7,-3.6 L-5.7,3.6 M5.7,-3.6 L5.7,3.6" stroke-width="1.1"/><path d="M-5.7,-2.7 L5.7,2.7 M-5.7,2.7 L5.7,-2.7 M-3.7,-1.75 L-3.7,1.75 M3.7,-1.75 L3.7,1.75" stroke-width="0.7"/>
</g>
<line x1="541.2" y1="451.5" x2="554.1999999999999" y2="451.5" stroke="#3f444c" stroke-width="0.7"/>
<line x1="541.2" y1="451.5" x2="554.1999999999999" y2="470.4" stroke="#3f444c" stroke-width="0.7"/>
<line x1="541.2" y1="451.5" x2="554.1999999999999" y2="489.5" stroke="#3f444c" stroke-width="0.7"/>
<line x1="541.2" y1="470.4" x2="554.1999999999999" y2="451.5" stroke="#3f444c" stroke-width="0.7"/>
<line x1="541.2" y1="470.4" x2="554.1999999999999" y2="470.4" stroke="#3f444c" stroke-width="0.7"/>
<line x1="541.2" y1="470.4" x2="554.1999999999999" y2="489.5" stroke="#3f444c" stroke-width="0.7"/>
<line x1="541.2" y1="489.5" x2="554.1999999999999" y2="451.5" stroke="#3f444c" stroke-width="0.7"/>
<line x1="541.2" y1="489.5" x2="554.1999999999999" y2="470.4" stroke="#3f444c" stroke-width="0.7"/>
<line x1="541.2" y1="489.5" x2="554.1999999999999" y2="489.5" stroke="#3f444c" stroke-width="0.7"/>
<polygon points="556.20,451.50 551.00,454.30 551.00,448.70" fill="#4a5058"/>
<polygon points="556.20,451.50 555.16,457.31 550.77,453.83" fill="#4a5058"/>
<polygon points="556.20,451.50 556.90,457.36 551.69,455.31" fill="#4a5058"/>
<polygon points="556.20,470.40 550.77,468.07 555.16,464.59" fill="#4a5058"/>
<polygon points="556.20,470.40 551.00,473.20 551.00,467.60" fill="#4a5058"/>
<polygon points="556.20,470.40 555.19,476.22 550.79,472.76" fill="#4a5058"/>
<polygon points="556.20,489.50 551.69,485.69 556.90,483.64" fill="#4a5058"/>
<polygon points="556.20,489.50 550.79,487.14 555.19,483.68" fill="#4a5058"/>
<polygon points="556.20,489.50 551.00,492.30 551.00,486.70" fill="#4a5058"/>
<circle cx="534.3" cy="451.5" r="7.2" fill="#2b9272" stroke="#1f6f56" stroke-width="0.9"/>
<circle cx="563.8" cy="451.5" r="7.2" fill="#44a9ba" stroke="#2f8a9a" stroke-width="0.9"/>
<circle cx="534.3" cy="470.4" r="7.2" fill="#2b9272" stroke="#1f6f56" stroke-width="0.9"/>
<circle cx="563.8" cy="470.4" r="7.2" fill="#44a9ba" stroke="#2f8a9a" stroke-width="0.9"/>
<circle cx="534.3" cy="489.5" r="7.2" fill="#2b9272" stroke="#1f6f56" stroke-width="0.9"/>
<circle cx="563.8" cy="489.5" r="7.2" fill="#44a9ba" stroke="#2f8a9a" stroke-width="0.9"/>
<line x1="574.5" y1="451.5" x2="582.20" y2="451.50" stroke="#444" stroke-width="0.9"/>
<polygon points="587.70,451.50 582.20,454.00 582.20,449.00" fill="#333"/>
<line x1="574.5" y1="470.4" x2="582.20" y2="470.40" stroke="#444" stroke-width="0.9"/>
<polygon points="587.70,470.40 582.20,472.90 582.20,467.90" fill="#333"/>
<line x1="574.5" y1="489.5" x2="582.20" y2="489.50" stroke="#444" stroke-width="0.9"/>
<polygon points="587.70,489.50 582.20,492.00 582.20,487.00" fill="#333"/>
<g transform="translate(598.8,452.5) rotate(-47) scale(1.0)" fill="none" stroke="#555" stroke-width="0.8">
<path d="M-5.7,-3.6 L-5.7,3.6 M5.7,-3.6 L5.7,3.6" stroke-width="1.1"/><path d="M-5.7,-2.7 L5.7,2.7 M-5.7,2.7 L5.7,-2.7 M-3.7,-1.75 L-3.7,1.75 M3.7,-1.75 L3.7,1.75" stroke-width="0.7"/>
</g>
<g transform="translate(614.7,451.5) rotate(-47) scale(1.0)" fill="none" stroke="#555" stroke-width="0.8">
<path d="M-5.7,-3.6 L-5.7,3.6 M5.7,-3.6 L5.7,3.6" stroke-width="1.1"/><path d="M-5.7,-2.7 L5.7,2.7 M-5.7,2.7 L5.7,-2.7 M-3.7,-1.75 L-3.7,1.75 M3.7,-1.75 L3.7,1.75" stroke-width="0.7"/>
</g>
<g transform="translate(597.8,470.4) rotate(-47) scale(1.0)" fill="none" stroke="#b5cbc0" stroke-width="0.8">
<path d="M-5.7,-3.6 L-5.7,3.6 M5.7,-3.6 L5.7,3.6" stroke-width="1.1"/><path d="M-5.7,-2.7 L5.7,2.7 M-5.7,2.7 L5.7,-2.7 M-3.7,-1.75 L-3.7,1.75 M3.7,-1.75 L3.7,1.75" stroke-width="0.7"/>
</g>
<g transform="translate(596.8,490.4) rotate(-47) scale(1.0)" fill="none" stroke="#aec4d2" stroke-width="0.8">
<path d="M-5.7,-3.6 L-5.7,3.6 M5.7,-3.6 L5.7,3.6" stroke-width="1.1"/><path d="M-5.7,-2.7 L5.7,2.7 M-5.7,2.7 L5.7,-2.7 M-3.7,-1.75 L-3.7,1.75 M3.7,-1.75 L3.7,1.75" stroke-width="0.7"/>
</g>
<g transform="translate(608.5,490.4) rotate(-47) scale(1.0)" fill="none" stroke="#aec4d2" stroke-width="0.8">
<path d="M-5.7,-3.6 L-5.7,3.6 M5.7,-3.6 L5.7,3.6" stroke-width="1.1"/><path d="M-5.7,-2.7 L5.7,2.7 M-5.7,2.7 L5.7,-2.7 M-3.7,-1.75 L-3.7,1.75 M3.7,-1.75 L3.7,1.75" stroke-width="0.7"/>
</g>
<g transform="translate(621.1,490.4) rotate(-47) scale(1.0)" fill="none" stroke="#aec4d2" stroke-width="0.8">
<path d="M-5.7,-3.6 L-5.7,3.6 M5.7,-3.6 L5.7,3.6" stroke-width="1.1"/><path d="M-5.7,-2.7 L5.7,2.7 M-5.7,2.7 L5.7,-2.7 M-3.7,-1.75 L-3.7,1.75 M3.7,-1.75 L3.7,1.75" stroke-width="0.7"/>
</g>
<circle cx="521.9" cy="570.9" r="2.1" fill="#000"/>
<circle cx="530.9" cy="570.9" r="2.1" fill="#000"/>
<circle cx="540.1" cy="570.9" r="2.1" fill="#000"/>
<g fill="#b3b3b3">
<ellipse cx="478.5" cy="589" rx="8.3" ry="7"/><polygon points="472,594 471,598.5 476,595.5"/>
<ellipse cx="485.5" cy="594.5" rx="7.3" ry="6.2" stroke="#fff" stroke-width="1"/><polygon points="490,599 491.5,602 487,600"/>
<circle cx="475.7" cy="586.8" r="1.1" fill="#fff"/><circle cx="481.5" cy="586.8" r="1.1" fill="#fff"/>
<circle cx="483" cy="593" r="0.95" fill="#fff"/><circle cx="488" cy="593" r="0.95" fill="#fff"/>
</g>
<text x="498" y="598.5" font-size="17" text-anchor="start" fill="#a9a9a9" stroke="#a9a9a9" stroke-width="0.3" style="font-family:'Liberation Sans','Noto Sans CJK SC',sans-serif">公众号</text>
<circle cx="557.5" cy="592.5" r="1.1" fill="#a9a9a9"/>
<text x="568" y="598.5" font-size="17" text-anchor="start" fill="#a9a9a9" stroke="#a9a9a9" stroke-width="0.3" style="font-family:'Liberation Sans','Noto Sans CJK SC',sans-serif">量子位</text>
</svg>
</body></html>
